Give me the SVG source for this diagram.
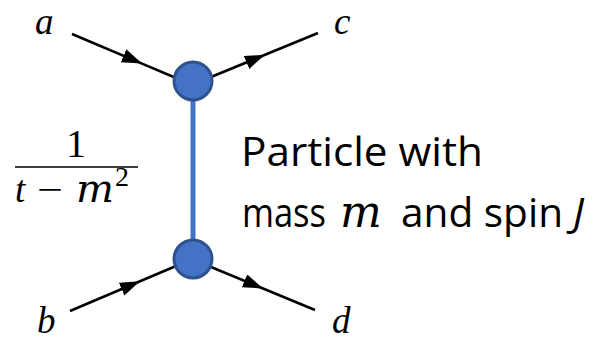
<svg xmlns="http://www.w3.org/2000/svg" width="600" height="343" viewBox="0 0 600 343">
<style>
.leg{fill:none;stroke:#000;stroke-width:2.6;marker-mid:url(#ah)}
.prop{stroke:#4472C4;stroke-width:5}
.vtx{fill:#4472C4;stroke:#2F528F;stroke-width:3}
.m{font-family:"Liberation Serif","DejaVu Serif",serif;font-style:italic;font-size:37px;fill:#000}
.r{font-family:"Liberation Serif","DejaVu Serif",serif;font-size:40px;fill:#000}
.t{font-family:"Open Sans","Noto Sans",sans-serif;font-size:41px;fill:#000}
.dm{font-family:"DejaVu Serif",serif;font-style:italic}
</style>
<defs>
<marker id="ah" markerUnits="userSpaceOnUse" markerWidth="22" markerHeight="16" refX="20" refY="7" orient="auto" viewBox="0 0 22 16">
<path d="M0,0 L20,7 L0,14 z" fill="#000"/>
</marker>
</defs>
<g id="connectors">
<line class="prop" x1="193" y1="85" x2="193" y2="255"/>
<path class="leg" d="M72,34 L142,63.6 L176,78"/>
<path class="leg" d="M211,77 L265,54.8 L318,33"/>
<path class="leg" d="M70,311 L140,281.3 L176,266"/>
<path class="leg" d="M211,267 L263,288.5 L315,310"/>
</g>
<g id="vertex-top"><circle class="vtx" cx="193" cy="81" r="19"/></g>
<g id="vertex-bottom"><circle class="vtx" cx="193" cy="259" r="19"/></g>
<g id="label-a"><text class="m" x="35" y="34">a</text></g>
<g id="label-c"><text class="m" x="334" y="34">c</text></g>
<g id="label-b"><text class="m" x="37" y="333">b</text></g>
<g id="label-d"><text class="m" x="332" y="333">d</text></g>
<g id="propagator">
<text class="r" x="76" y="157" text-anchor="middle">1</text>
<line x1="15" y1="167" x2="138" y2="167" stroke="#000" stroke-width="1.5"/>
<text class="m" y="202" font-size="40"><tspan x="15">t</tspan><tspan x="37" font-style="normal" textLength="26" lengthAdjust="spacingAndGlyphs">−</tspan><tspan x="76" class="dm" font-size="40">m</tspan><tspan x="115" dy="-16" font-size="28" font-style="normal">2</tspan></text>
</g>
<g id="particle-label">
<text class="t" x="241" y="166" textLength="242" lengthAdjust="spacingAndGlyphs">Particle with</text>
<text class="t" y="227"><tspan x="242" textLength="84" lengthAdjust="spacingAndGlyphs">mass</tspan><tspan x="340" class="dm" font-size="44">m</tspan><tspan x="401" textLength="162" lengthAdjust="spacingAndGlyphs">and spin</tspan><tspan x="573" font-style="italic">J</tspan></text>
</g>
</svg>
